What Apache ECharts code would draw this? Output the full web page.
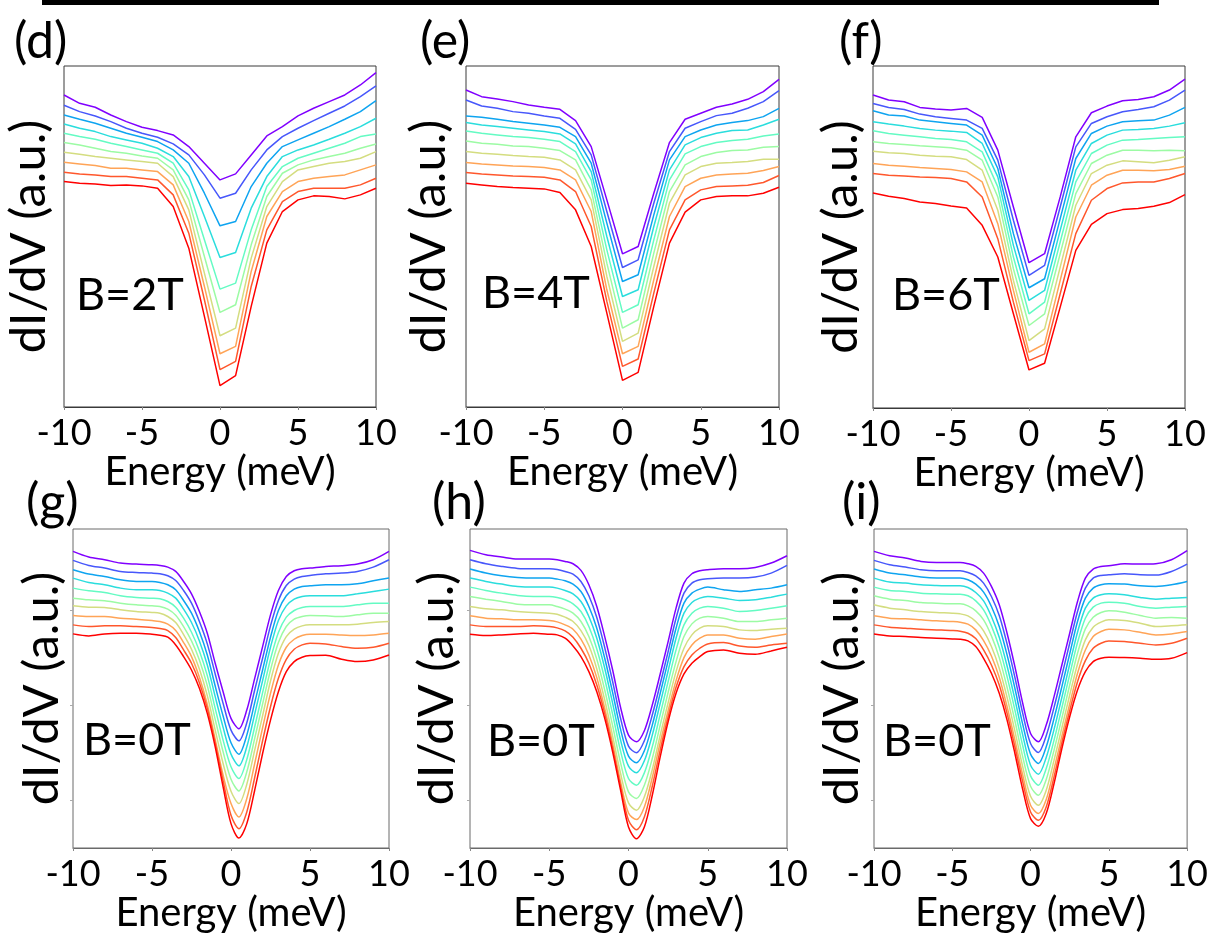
<!DOCTYPE html>
<html>
<head>
<meta charset="utf-8">
<script src="https://cdn.jsdelivr.net/npm/echarts@6/dist/echarts.min.js"></script>
<style>
  html, body { margin: 0; padding: 0; background: #ffffff; }
  #chart { width: 1211px; height: 934px; }
</style>
</head>
<body>
<div id="chart"></div>
<script>
// Bias energies (meV): field sweeps sampled every 1 meV, zero-field spectra finer near the gap
const energyCoarse = [-10, -9, -8, -7, -6, -5, -4, -3, -2, -1, 0, 1, 2, 3, 4, 5, 6, 7, 8, 9, 10];
const energyFine = [-10, -9, -8, -7, -6, -5, -4.5, -4, -3.5, -3, -2.5, -2, -1.5, -1, -0.5, 0,
                    0.5, 1, 1.5, 2, 2.5, 3, 3.5, 4, 4.5, 5, 6, 7, 8, 9, 10];

// Rainbow palette, first curve (purple, top) to last curve (red, bottom)
const curveColors = ['#8000ff', '#4757fb', '#0ea4f0', '#2adddd', '#64fbc3',
                     '#9cfba4', '#d4dd80', '#ffa457', '#ff572c', '#ff0000'];

const panelLetters = ['(d)', '(e)', '(f)', '(g)', '(h)', '(i)'];
const fieldLabels = ['B=2T', 'B=4T', 'B=6T', 'B=0T', 'B=0T', 'B=0T'];
const xTickValues = [-10, -5, 0, 5, 10];
const xAxisTitle = 'Energy (meV)';
const yAxisTitle = 'dI/dV (a.u.)';

// dI/dV (a.u., offset curves), B = 2T
const spectraD = [
  [93.7, 91.2, 90.0, 87.7, 85.7, 84.0, 83.0, 81.7, 78.2, 73.2, 68.2, 70.0, 75.7, 81.4, 84.2, 87.4, 89.7, 91.7, 93.7, 96.7, 100.4],
  [90.6, 88.7, 87.4, 85.7, 83.7, 82.2, 81.0, 79.0, 75.7, 69.7, 62.7, 64.2, 71.2, 77.2, 81.2, 83.7, 86.0, 88.2, 90.4, 93.2, 96.4],
  [87.7, 86.4, 85.2, 83.7, 82.2, 81.0, 79.7, 77.2, 73.2, 64.2, 54.4, 55.7, 66.2, 73.2, 78.2, 80.2, 82.2, 84.2, 86.4, 88.7, 92.0],
  [85.0, 83.7, 82.7, 81.2, 80.2, 79.2, 77.7, 75.2, 69.2, 57.2, 44.9, 46.4, 59.7, 69.2, 75.2, 77.2, 78.7, 80.4, 82.2, 84.2, 86.7],
  [82.2, 81.2, 80.4, 79.2, 78.2, 77.2, 76.2, 73.2, 65.2, 50.2, 35.4, 37.2, 53.2, 66.2, 72.2, 74.7, 76.2, 77.7, 79.2, 81.2, 82.0],
  [79.4, 78.7, 77.7, 76.7, 76.2, 75.4, 74.7, 71.2, 62.2, 45.2, 28.4, 30.7, 48.7, 63.2, 70.2, 72.7, 74.2, 75.2, 76.2, 77.7, 79.0],
  [76.5, 75.9, 75.2, 74.7, 74.2, 73.7, 73.2, 69.2, 59.2, 40.2, 21.4, 23.7, 44.7, 60.2, 67.7, 71.2, 72.2, 73.2, 73.7, 74.7, 76.7],
  [73.5, 73.0, 72.5, 71.7, 71.7, 71.2, 70.7, 66.7, 55.7, 36.2, 16.0, 18.2, 40.7, 57.2, 64.7, 67.7, 68.7, 69.2, 69.7, 71.2, 72.7],
  [70.5, 70.0, 69.7, 69.2, 69.2, 68.7, 68.2, 63.7, 52.2, 32.2, 11.2, 13.7, 36.2, 53.2, 61.7, 64.7, 65.7, 65.7, 65.7, 66.7, 68.7],
  [67.7, 67.2, 67.0, 66.5, 66.7, 66.4, 65.7, 60.2, 47.7, 27.2, 6.4, 9.4, 30.2, 49.2, 58.7, 62.2, 63.4, 63.2, 62.5, 63.7, 65.7]
];

// B = 4T
const spectraE = [
  [95.2, 93.2, 92.5, 91.7, 90.7, 90.0, 89.4, 86.0, 78.2, 62.2, 46.0, 48.2, 64.2, 79.4, 86.4, 88.2, 90.0, 91.0, 92.4, 94.7, 98.4],
  [92.2, 90.4, 89.7, 88.7, 88.2, 87.4, 86.7, 83.4, 75.7, 58.7, 41.9, 44.2, 61.2, 76.7, 83.7, 85.7, 87.5, 88.2, 89.7, 91.7, 95.0],
  [87.4, 87.0, 86.4, 85.7, 85.2, 84.7, 84.0, 81.2, 73.2, 55.2, 37.7, 39.7, 57.7, 74.2, 81.2, 83.2, 84.7, 85.4, 86.0, 87.2, 89.7],
  [85.4, 84.7, 84.2, 83.7, 83.2, 82.7, 82.0, 79.0, 70.7, 51.2, 33.2, 35.2, 54.2, 71.2, 78.7, 80.9, 82.2, 83.0, 83.2, 84.7, 86.4],
  [82.9, 82.2, 81.7, 81.2, 80.9, 80.4, 79.7, 76.7, 68.2, 47.2, 28.4, 30.7, 50.2, 68.2, 76.0, 78.2, 79.4, 80.0, 80.4, 81.4, 82.0],
  [79.9, 79.2, 78.9, 78.4, 78.2, 77.7, 77.0, 74.2, 65.2, 43.2, 23.7, 26.2, 46.2, 64.7, 72.7, 75.2, 76.4, 77.0, 77.2, 78.0, 78.2],
  [76.7, 76.2, 75.9, 75.5, 75.2, 75.0, 74.2, 71.2, 62.2, 39.2, 19.7, 22.2, 42.2, 61.2, 69.7, 72.2, 73.2, 73.4, 73.7, 74.4, 74.4],
  [73.4, 73.0, 72.7, 72.4, 72.2, 71.9, 71.2, 68.2, 58.7, 35.2, 16.0, 18.2, 38.2, 57.2, 66.2, 68.7, 69.7, 70.0, 70.2, 71.0, 72.2],
  [70.4, 70.0, 69.7, 69.4, 69.2, 69.0, 68.2, 64.7, 54.2, 31.7, 12.2, 14.4, 34.2, 53.2, 62.2, 65.2, 66.2, 66.4, 66.6, 67.4, 69.5],
  [67.2, 66.7, 66.2, 65.9, 65.7, 65.5, 64.4, 59.2, 48.2, 28.2, 8.0, 10.4, 30.2, 49.2, 58.5, 62.2, 63.2, 63.4, 63.4, 64.2, 66.0]
];

// B = 6T
const spectraF = [
  [93.7, 92.2, 91.7, 90.0, 89.5, 89.2, 89.7, 87.0, 77.2, 60.2, 43.5, 46.2, 63.2, 81.2, 88.4, 90.4, 92.0, 92.4, 93.2, 95.2, 98.5],
  [91.2, 90.0, 89.4, 88.0, 87.2, 86.7, 86.2, 83.7, 74.2, 56.2, 39.7, 42.7, 60.2, 78.2, 85.2, 87.2, 88.7, 89.4, 90.2, 92.2, 95.2],
  [89.0, 87.7, 87.4, 86.2, 85.7, 85.2, 84.7, 81.7, 71.7, 52.2, 36.0, 38.7, 56.7, 74.7, 82.2, 84.4, 85.7, 86.0, 86.2, 87.7, 90.0],
  [85.7, 85.0, 84.4, 83.7, 83.2, 82.9, 82.5, 79.2, 69.2, 48.7, 32.2, 35.2, 53.2, 71.2, 79.2, 81.7, 83.2, 83.4, 83.7, 84.4, 85.4],
  [83.0, 82.2, 81.7, 81.2, 80.7, 80.4, 79.7, 76.7, 66.2, 45.2, 28.2, 31.7, 49.7, 67.7, 76.2, 78.7, 80.2, 80.4, 80.7, 81.0, 81.2],
  [79.7, 79.2, 78.9, 78.5, 78.2, 77.9, 77.2, 74.2, 63.2, 41.7, 24.7, 28.2, 46.2, 64.2, 73.2, 75.7, 77.2, 77.2, 77.0, 77.2, 77.0],
  [76.9, 76.4, 76.2, 75.7, 75.4, 75.2, 74.4, 71.2, 59.2, 38.2, 20.2, 23.7, 42.2, 60.7, 70.2, 72.7, 74.0, 73.7, 73.4, 74.2, 75.2],
  [73.2, 72.7, 72.4, 72.0, 71.7, 71.4, 70.7, 67.7, 55.2, 35.2, 16.7, 19.2, 38.2, 57.2, 66.7, 69.7, 71.2, 71.2, 71.0, 71.4, 72.4],
  [70.2, 69.7, 69.5, 69.2, 69.0, 68.7, 67.7, 63.2, 50.7, 31.7, 14.2, 16.2, 34.2, 52.2, 62.2, 65.7, 67.4, 67.7, 67.7, 68.7, 70.2],
  [64.4, 63.4, 62.7, 61.7, 61.2, 60.5, 59.9, 54.7, 45.2, 28.2, 11.4, 13.4, 30.2, 47.2, 55.0, 58.2, 59.4, 59.7, 60.4, 61.5, 63.9]
];

// B = 0T, first location
const spectraG = [
  [88.8, 87.1, 86.3, 85.3, 85.0, 84.8, 84.6, 84.1, 82.8, 79.8, 76.1, 70.8, 64.3, 55.3, 46.8, 38.8, 35.7, 41.3, 50.8, 60.3, 69.8, 77.1, 81.3, 83.0, 83.6, 83.8, 84.3, 84.5, 85.0, 86.3, 88.8],
  [86.1, 84.6, 83.8, 82.8, 82.5, 82.3, 82.1, 81.5, 80.1, 77.1, 73.3, 67.8, 61.1, 52.1, 43.3, 35.3, 32.1, 37.5, 47.3, 56.8, 66.5, 74.1, 78.6, 80.5, 81.3, 81.6, 82.1, 82.3, 82.8, 84.1, 86.3],
  [83.3, 82.0, 81.3, 80.3, 79.8, 79.8, 79.5, 78.8, 77.3, 74.1, 70.3, 64.8, 57.8, 48.5, 39.5, 31.5, 28.1, 33.8, 43.5, 53.3, 63.1, 71.1, 75.5, 77.5, 78.3, 78.5, 78.8, 78.8, 79.1, 80.0, 80.8],
  [80.8, 79.5, 78.8, 77.8, 77.3, 77.3, 77.1, 76.3, 74.8, 71.5, 67.5, 62.0, 54.8, 45.3, 36.1, 28.1, 24.6, 30.3, 40.1, 50.1, 60.1, 68.1, 72.5, 74.5, 75.3, 75.5, 75.5, 75.5, 76.1, 76.8, 77.5],
  [77.8, 77.0, 76.5, 75.5, 75.0, 74.8, 74.6, 73.8, 72.1, 68.8, 64.6, 59.0, 51.6, 41.8, 32.3, 24.3, 20.8, 26.5, 36.3, 46.5, 56.5, 64.5, 69.1, 71.1, 72.0, 72.3, 72.3, 72.3, 72.8, 73.3, 73.3],
  [74.8, 74.3, 74.0, 73.3, 72.8, 72.5, 72.3, 71.5, 69.7, 66.3, 62.0, 56.3, 48.6, 38.5, 28.8, 20.6, 17.1, 22.8, 32.8, 43.1, 53.3, 61.5, 66.3, 68.5, 69.3, 69.6, 69.5, 69.3, 69.8, 70.3, 70.3],
  [72.5, 72.1, 72.0, 71.3, 70.8, 70.5, 70.3, 69.3, 67.5, 63.9, 59.5, 53.6, 45.6, 35.3, 25.3, 17.0, 13.3, 19.1, 29.3, 39.6, 50.0, 58.3, 63.3, 65.5, 66.5, 66.8, 66.8, 66.8, 67.0, 67.5, 67.8],
  [69.6, 69.3, 69.3, 68.8, 68.5, 68.1, 67.8, 67.0, 65.1, 61.5, 57.3, 51.1, 43.0, 32.5, 21.8, 13.3, 9.3, 14.8, 25.3, 36.0, 46.3, 54.8, 60.1, 62.5, 63.6, 64.0, 64.0, 63.8, 63.6, 63.8, 64.3],
  [66.8, 66.3, 66.5, 66.5, 66.3, 66.0, 65.7, 65.1, 63.0, 59.3, 55.3, 49.5, 41.8, 31.5, 20.1, 9.8, 5.8, 10.8, 21.1, 32.1, 42.3, 50.8, 56.5, 59.5, 60.8, 61.3, 61.1, 60.3, 59.8, 60.1, 61.3],
  [64.1, 63.5, 64.1, 64.3, 64.3, 64.0, 63.7, 63.1, 60.8, 57.3, 53.3, 47.8, 40.3, 30.3, 18.3, 7.3, 3.0, 7.3, 17.3, 28.3, 38.3, 46.8, 52.8, 55.8, 57.1, 57.6, 57.7, 56.5, 55.8, 56.3, 57.8]
];

// B = 0T, second location
const spectraH = [
  [89.1, 87.8, 87.1, 86.5, 86.5, 86.5, 86.3, 85.8, 85.1, 83.1, 78.8, 72.3, 63.3, 53.3, 42.1, 33.8, 31.8, 35.1, 42.8, 52.1, 61.8, 71.8, 79.3, 82.1, 83.0, 83.3, 83.6, 83.6, 84.0, 85.3, 87.5],
  [86.3, 85.1, 84.3, 83.7, 83.6, 83.6, 83.4, 82.8, 82.0, 79.8, 75.5, 69.0, 60.0, 49.8, 38.8, 30.5, 28.5, 32.1, 39.8, 49.1, 58.8, 68.8, 76.3, 79.3, 80.3, 80.6, 80.8, 80.8, 81.1, 82.3, 84.6],
  [83.5, 82.3, 81.5, 81.0, 80.8, 80.8, 80.5, 80.0, 79.0, 76.8, 72.3, 65.8, 56.8, 46.5, 35.5, 27.5, 25.5, 29.1, 36.8, 46.3, 56.0, 65.8, 73.3, 76.3, 77.5, 78.1, 77.3, 76.8, 77.3, 77.8, 78.8],
  [80.8, 79.8, 79.0, 78.3, 78.1, 78.1, 77.8, 77.1, 76.1, 73.8, 69.3, 62.8, 53.8, 43.3, 32.3, 24.5, 22.5, 26.1, 33.8, 43.3, 53.0, 62.8, 70.3, 73.5, 74.8, 75.3, 74.8, 74.1, 74.3, 75.1, 76.0],
  [78.1, 77.1, 76.3, 75.6, 75.3, 75.3, 75.0, 74.3, 73.1, 70.8, 66.3, 59.6, 50.6, 40.0, 29.0, 20.8, 18.8, 22.5, 30.3, 40.0, 49.8, 59.3, 66.8, 70.3, 71.8, 72.3, 71.8, 70.8, 71.1, 71.8, 72.5],
  [75.3, 74.5, 73.8, 73.0, 72.8, 72.8, 72.3, 71.5, 70.3, 67.8, 63.3, 56.5, 47.3, 36.6, 25.5, 16.8, 14.8, 18.8, 26.8, 36.8, 46.6, 55.8, 63.3, 67.1, 68.8, 69.3, 68.8, 67.8, 67.8, 68.3, 68.8],
  [72.3, 71.6, 71.3, 70.8, 70.5, 70.3, 70.0, 69.1, 67.8, 65.1, 60.6, 53.6, 44.3, 33.5, 22.3, 13.5, 11.3, 15.3, 23.5, 33.8, 43.5, 52.8, 59.8, 63.8, 65.8, 66.5, 66.3, 65.3, 65.1, 65.5, 65.8],
  [69.5, 68.8, 68.6, 68.3, 68.3, 68.1, 67.7, 66.8, 65.5, 62.5, 57.8, 51.0, 41.8, 31.3, 19.8, 10.5, 8.5, 12.3, 21.1, 31.5, 41.1, 50.1, 57.0, 60.8, 62.8, 63.8, 63.8, 62.8, 62.5, 63.3, 64.1],
  [66.8, 66.3, 66.3, 66.3, 66.5, 66.3, 65.9, 65.0, 63.1, 59.8, 55.3, 48.8, 40.3, 30.0, 18.5, 8.3, 5.5, 9.3, 18.5, 29.3, 39.3, 48.1, 54.3, 57.8, 59.8, 61.1, 61.5, 60.5, 60.1, 60.8, 61.3],
  [64.0, 63.6, 63.8, 64.1, 64.3, 64.0, 63.8, 62.8, 60.5, 57.3, 52.8, 46.8, 38.8, 28.8, 17.3, 6.3, 2.8, 6.3, 15.8, 27.3, 37.8, 46.3, 52.1, 55.3, 57.3, 58.8, 59.3, 58.3, 58.0, 59.0, 60.1]
];

// B = 0T, third location
const spectraI = [
  [88.8, 87.5, 86.8, 85.8, 85.5, 85.5, 85.5, 85.1, 84.3, 82.3, 78.3, 72.8, 64.3, 54.3, 43.3, 34.3, 31.8, 36.8, 45.3, 54.8, 64.3, 73.8, 80.8, 83.5, 84.3, 84.5, 85.1, 85.0, 85.1, 86.3, 89.0],
  [86.1, 84.8, 84.1, 83.3, 83.0, 83.0, 83.0, 82.5, 81.5, 79.3, 75.3, 69.6, 61.1, 51.1, 40.3, 31.3, 28.6, 33.6, 42.1, 51.6, 61.3, 70.8, 77.8, 80.8, 81.6, 81.8, 82.1, 81.8, 81.7, 82.8, 85.0],
  [83.5, 82.3, 81.8, 81.1, 80.8, 80.8, 80.8, 80.3, 79.0, 76.6, 72.3, 66.3, 57.8, 47.8, 37.0, 28.1, 25.3, 30.3, 38.8, 48.3, 58.1, 67.8, 74.8, 77.8, 78.8, 79.1, 79.0, 78.5, 78.3, 78.8, 79.8],
  [80.8, 79.6, 79.3, 78.8, 78.6, 78.5, 78.5, 78.0, 76.5, 74.0, 69.3, 63.1, 54.5, 44.5, 33.8, 24.8, 22.1, 27.1, 35.5, 45.1, 55.0, 64.6, 71.8, 74.8, 75.8, 76.1, 75.8, 75.0, 74.5, 74.8, 75.0],
  [78.1, 77.1, 76.8, 76.3, 76.1, 76.0, 76.0, 75.5, 74.0, 71.3, 66.5, 60.1, 51.3, 41.3, 30.6, 21.6, 18.8, 23.8, 32.3, 42.0, 51.9, 61.5, 68.8, 72.1, 73.3, 73.6, 73.3, 72.3, 71.8, 72.1, 72.3],
  [75.5, 74.5, 74.1, 73.5, 73.3, 73.1, 73.1, 72.5, 71.0, 68.3, 63.5, 57.0, 48.1, 38.1, 27.3, 18.5, 15.8, 20.5, 29.3, 38.9, 48.8, 58.3, 65.6, 69.1, 70.5, 71.0, 70.6, 69.6, 68.8, 69.0, 68.8],
  [72.8, 71.8, 71.3, 70.8, 70.5, 70.3, 70.1, 69.5, 67.8, 65.0, 60.3, 53.8, 45.1, 35.0, 24.3, 15.5, 12.8, 17.3, 26.3, 36.0, 45.8, 55.1, 62.3, 66.1, 67.6, 68.3, 68.1, 67.3, 66.3, 66.5, 66.8],
  [69.5, 68.8, 68.6, 68.3, 68.0, 67.8, 67.6, 67.0, 65.3, 62.1, 57.5, 51.1, 42.3, 32.3, 21.8, 12.8, 10.3, 14.5, 23.6, 33.5, 43.1, 52.3, 59.3, 63.3, 64.8, 65.5, 65.3, 64.6, 63.8, 64.1, 64.8],
  [66.8, 66.1, 65.8, 65.5, 65.3, 65.1, 64.9, 64.3, 62.7, 59.3, 54.8, 48.8, 40.3, 30.3, 19.8, 10.8, 8.3, 12.3, 21.3, 31.5, 41.1, 49.8, 56.1, 59.8, 61.3, 62.0, 61.8, 61.3, 60.8, 61.3, 62.8],
  [64.1, 63.5, 63.3, 63.0, 62.8, 62.6, 62.5, 62.0, 60.3, 56.8, 52.3, 46.3, 38.3, 28.3, 17.5, 8.8, 6.5, 10.3, 19.3, 29.8, 39.3, 47.3, 52.8, 55.8, 56.8, 57.1, 57.0, 56.8, 56.5, 56.8, 58.5]
];

// ---- layout of the six panels (pixels) ----
const panels = [
  { spectra: spectraD, energy: energyCoarse, box: [64, 66, 312, 341], yMax: 102.4, smooth: false, yGap: 10, xGap: 37, letterPos: [14, 42], fieldPos: [76, 295] },
  { spectra: spectraE, energy: energyCoarse, box: [466, 66, 313, 341], yMax: 102.4, smooth: false, yGap: 12, xGap: 37, letterPos: [420, 42], fieldPos: [482, 293] },
  { spectra: spectraF, energy: energyCoarse, box: [873, 66, 312, 342], yMax: 102.4, smooth: false, yGap: 7, xGap: 37, letterPos: [839, 42], fieldPos: [892, 295] },
  { spectra: spectraG, energy: energyFine, box: [73, 529, 316, 319], yMax: 95.5, smooth: 0.3, yGap: 6, xGap: 41, letterPos: [26, 503], fieldPos: [83, 740] },
  { spectra: spectraH, energy: energyFine, box: [470, 529, 317, 319], yMax: 95.5, smooth: 0.3, yGap: 8, xGap: 41, letterPos: [432, 503], fieldPos: [487, 741] },
  { spectra: spectraI, energy: energyFine, box: [874, 529, 317, 319], yMax: 95.5, smooth: 0.3, yGap: 7, xGap: 41, letterPos: [842, 503], fieldPos: [883, 741] }
];

const FONT = 'Lato, "Open Sans", sans-serif';
const grids = [], xAxes = [], yAxes = [], series = [], graphics = [];

panels.forEach((p, k) => {
  const bottomRow = k >= 3;
  const frame = bottomRow ? '#6a6a6a' : '#3a3a3a';
  grids.push({
    left: p.box[0], top: p.box[1], width: p.box[2], height: p.box[3],
    show: true, borderColor: frame, borderWidth: 1,
    backgroundColor: 'transparent', containLabel: false
  });
  xAxes.push({
    type: 'value', gridIndex: k, min: -10, max: 10, interval: 5,
    axisLine: { show: true, onZero: false, lineStyle: { color: frame, width: 1 } },
    axisTick: { show: true, length: 3, lineStyle: { color: '#888' } },
    splitLine: { show: false },
    axisLabel: { show: true, fontSize: 36, fontFamily: FONT, color: '#000', margin: 8,
                 customValues: xTickValues },
    name: xAxisTitle, nameLocation: 'middle', nameGap: p.xGap,
    nameTextStyle: { fontSize: 40, fontFamily: FONT, color: '#000' }
  });
  yAxes.push({
    type: 'value', gridIndex: k, min: 0, max: p.yMax,
    axisLine: { show: false, onZero: false },
    axisTick: bottomRow
      ? { show: true, length: 3, lineStyle: { color: '#aaa' }, customValues: [14.3, 42.8, 71.3] }
      : { show: false },
    axisLabel: { show: false },
    splitLine: { show: false },
    name: yAxisTitle, nameLocation: 'middle', nameRotate: 90, nameGap: p.yGap,
    nameTextStyle: { fontSize: 49, fontFamily: FONT, color: '#000' }
  });
  p.spectra.forEach((vals, c) => {
    series.push({
      type: 'line', xAxisIndex: k, yAxisIndex: k,
      data: p.energy.map((e, i) => [e, vals[i]]),
      showSymbol: false, smooth: p.smooth,
      lineStyle: { color: curveColors[c], width: 1.5 },
      silent: true, z: 2 + c
    });
  });
  graphics.push({
    type: 'text', x: p.letterPos[0], y: p.letterPos[1],
    style: { text: panelLetters[k], font: '50px ' + FONT, fill: '#000', align: 'left', verticalAlign: 'middle' }
  });
  graphics.push({
    type: 'text', x: p.fieldPos[0], y: p.fieldPos[1], z: 50,
    style: { text: fieldLabels[k], font: '45px ' + FONT, fill: '#000', align: 'left', verticalAlign: 'middle' }
  });
});

// heavy rule across the top of the figure
graphics.push({ type: 'rect', shape: { x: 42, y: 0, width: 1117, height: 5 }, style: { fill: '#000' } });

const chart = echarts.init(document.getElementById('chart'), null, { renderer: 'canvas' });
chart.setOption({
  animation: false,
  backgroundColor: '#ffffff',
  grid: grids,
  xAxis: xAxes,
  yAxis: yAxes,
  series: series,
  graphic: graphics
});
</script>
</body>
</html>
